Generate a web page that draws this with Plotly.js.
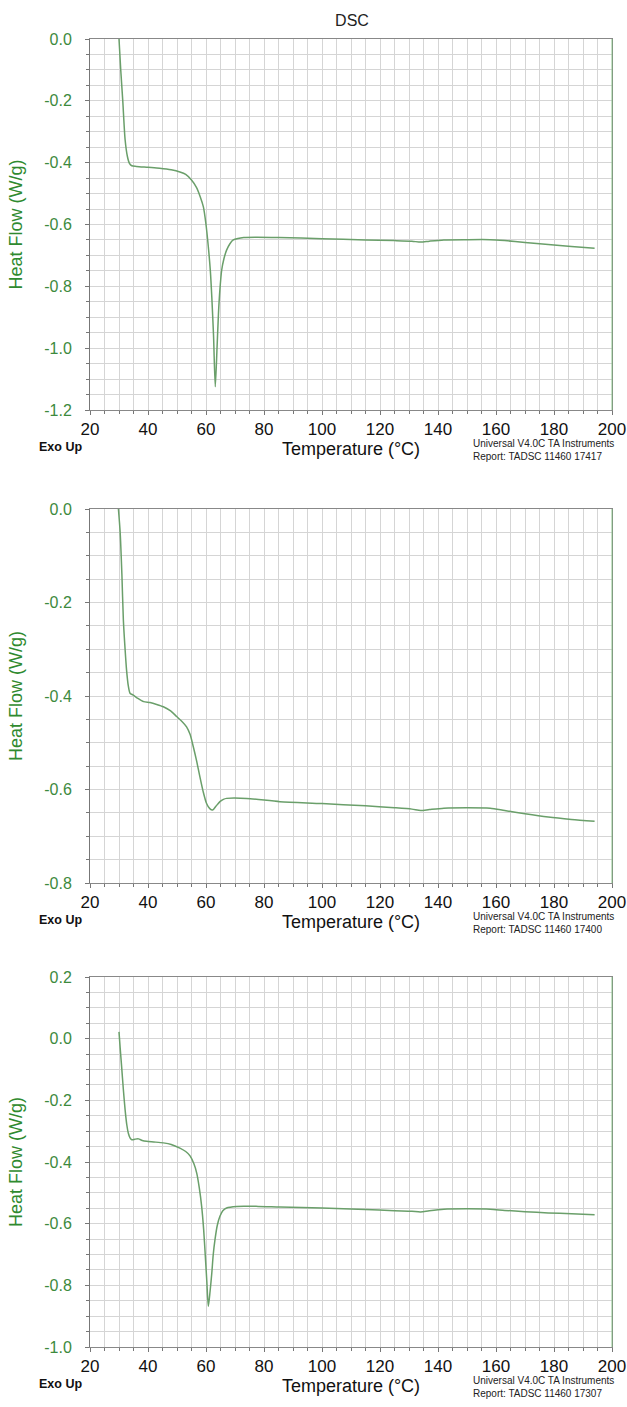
<!DOCTYPE html>
<html><head><meta charset="utf-8">
<script src="https://cdn.plot.ly/plotly-3.0.1.min.js"></script>
<style>html,body{margin:0;padding:0;background:#fff}#chart{width:627px;height:1407px}</style>
</head><body><div id="chart"></div>
<script>
// ---- data ----
// Panel 1 : Report TADSC 11460 17417
const temp1 = [30.0, 30.6, 31.3, 32.1, 32.9, 33.6, 34.4, 36, 40, 44, 48, 51, 53, 55, 56.7, 58, 59.1, 60, 60.8, 61.5, 62, 62.6, 63.2, 63.8, 64.3, 64.8, 65.4, 66.2, 67.1, 68.2, 69.4, 71, 73, 77, 85, 100, 115, 125, 131, 134, 137, 142, 150, 158, 163, 170, 178, 186, 194];
const flow1 = [0.0, -0.1, -0.2, -0.325, -0.38, -0.402, -0.41, -0.412, -0.415, -0.418, -0.423, -0.43, -0.438, -0.456, -0.48, -0.51, -0.543, -0.6, -0.672, -0.75, -0.834, -0.96, -1.125, -1.0, -0.888, -0.81, -0.748, -0.71, -0.683, -0.663, -0.65, -0.645, -0.642, -0.641, -0.642, -0.646, -0.65, -0.652, -0.654, -0.657, -0.654, -0.65, -0.649, -0.649, -0.652, -0.658, -0.665, -0.671, -0.677];
// Panel 2 : Report TADSC 11460 17400
const temp2 = [29.8, 30.4, 31.0, 31.5, 32.1, 32.6, 33.2, 33.8, 34.9, 36.5, 38.5, 40.7, 43, 45.3, 47.8, 49.9, 51.8, 53.3, 54.5, 55.6, 56.8, 57.9, 59, 60.2, 61.3, 62.3, 63.4, 64.8, 66, 67.1, 74, 85.5, 100, 115, 125, 131, 134, 137, 142, 150, 158, 163, 170, 178, 186, 194];
const flow2 = [0.0, -0.05, -0.14, -0.237, -0.3, -0.344, -0.378, -0.394, -0.398, -0.405, -0.412, -0.414, -0.418, -0.423, -0.432, -0.444, -0.455, -0.466, -0.482, -0.508, -0.54, -0.573, -0.604, -0.63, -0.641, -0.644, -0.636, -0.626, -0.621, -0.619, -0.619, -0.626, -0.63, -0.635, -0.639, -0.642, -0.645, -0.643, -0.64, -0.639, -0.64, -0.645, -0.652, -0.659, -0.664, -0.668];
// Panel 3 : Report TADSC 11460 17307
const temp3 = [30.0, 30.4, 30.9, 31.5, 32.1, 32.7, 33.2, 33.8, 34.4, 35.5, 36.7, 38, 39.5, 42, 45.3, 48, 51, 53, 54.5, 55.8, 56.8, 57.7, 58.5, 59.2, 59.7, 60.3, 60.8, 61.4, 62, 62.5, 63.1, 63.9, 64.8, 65.8, 67.1, 70.6, 78, 85.5, 100, 115, 125, 131, 134, 137, 142, 150, 158, 163, 170, 178, 186, 194];
const flow3 = [0.022, -0.03, -0.09, -0.165, -0.23, -0.28, -0.306, -0.322, -0.328, -0.326, -0.325, -0.33, -0.333, -0.335, -0.338, -0.343, -0.355, -0.366, -0.38, -0.405, -0.436, -0.485, -0.544, -0.62, -0.695, -0.79, -0.868, -0.82, -0.76, -0.7, -0.652, -0.605, -0.576, -0.558, -0.549, -0.544, -0.544, -0.546, -0.549, -0.554, -0.558, -0.56, -0.562, -0.558, -0.553, -0.552, -0.553, -0.557, -0.561, -0.565, -0.568, -0.571];

// tick labels
const yTicks1 = [0, -0.2, -0.4, -0.6, -0.8, -1.0, -1.2];
const yText1  = ['0.0', '-0.2', '-0.4', '-0.6', '-0.8', '-1.0', '-1.2'];
const yTicks2 = [0, -0.2, -0.4, -0.6, -0.8];
const yText2  = ['0.0', '-0.2', '-0.4', '-0.6', '-0.8'];
const yTicks3 = [0.2, 0, -0.2, -0.4, -0.6, -0.8, -1.0];
const yText3  = ['0.2', '0.0', '-0.2', '-0.4', '-0.6', '-0.8', '-1.0'];
const software = 'Universal V4.0C TA Instruments';
const reports = ['Report: TADSC 11460 17417', 'Report: TADSC 11460 17400', 'Report: TADSC 11460 17307'];

// ---- styling / layout ----
const W = 627, H = 1407;
const FONT = 'Liberation Sans, Arial, sans-serif';
const GRID = '#d5d5d5';
const LINE = '#6a9f6a';
const GREEN_TXT = '#3d8a3d';
const py = p => 1 - p / H;                 // pixel row -> paper y
const px = p => (p - 90) / (W - 90 - 15);  // pixel col -> paper x

const panels = [
  {top: 39,  bottom: 410,  range: [-1.2, 0],   tv: yTicks1, tt: yText1},
  {top: 509, bottom: 883,  range: [-0.8, 0],   tv: yTicks2, tt: yText2},
  {top: 977, bottom: 1347, range: [-1.0, 0.2], tv: yTicks3, tt: yText3}
];
const series = [[temp1, flow1], [temp2, flow2], [temp3, flow3]];

const data = series.map((s, i) => ({
  x: s[0], y: s[1], type: 'scatter', mode: 'lines',
  line: {color: LINE, width: 1.5, shape: 'spline', smoothing: 0.7},
  xaxis: i === 0 ? 'x' : 'x' + (i + 1),
  yaxis: i === 0 ? 'y' : 'y' + (i + 1),
  hoverinfo: 'skip', showlegend: false, cliponaxis: true
}));

const layout = {
  width: W, height: H,
  margin: {l: 90, r: 15, t: 0, b: 0},
  paper_bgcolor: '#fff', plot_bgcolor: '#fff',
  showlegend: false,
  title: {text: 'DSC', x: 352 / W, xanchor: 'center', xref: 'container',
          y: 1 - 20 / H, yanchor: 'middle', yref: 'container',
          font: {family: FONT, size: 16, color: '#222'}},
  annotations: [], shapes: []
};

panels.forEach((p, i) => {
  const sfx = i === 0 ? '' : String(i + 1);
  const xa = 'x' + sfx, ya = 'y' + sfx;
  layout['xaxis' + sfx] = {
    domain: [0, 1], anchor: ya, range: [20, 200],
    tickmode: 'linear', tick0: 0, dtick: 20,
    ticks: 'outside', ticklen: 4, tickcolor: '#777', tickwidth: 1,
    showline: true, linecolor: '#888', linewidth: 1, mirror: true,
    showgrid: true, gridcolor: GRID, gridwidth: 1, zeroline: false,
    tickfont: {family: FONT, size: 17, color: '#111'},
    title: {text: 'Temperature (°C)', font: {family: FONT, size: 18, color: '#111'}, standoff: 1},
    minor: {tick0: 0, dtick: 5, showgrid: true, gridcolor: GRID, gridwidth: 1,
            ticks: 'outside', ticklen: 3, tickcolor: '#777'},
    fixedrange: true, automargin: false
  };
  layout['yaxis' + sfx] = {
    domain: [py(p.bottom), py(p.top)], anchor: xa, range: p.range,
    tickmode: 'array', tickvals: p.tv, ticktext: p.tt,
    ticks: 'outside', ticklen: 4, tickcolor: '#777', tickwidth: 1,
    ticklabelstandoff: 10,
    showline: true, linecolor: '#777', linewidth: 1, mirror: true,
    showgrid: true, gridcolor: GRID, gridwidth: 1, zeroline: false,
    tickfont: {family: FONT, size: 16, color: GREEN_TXT},
    title: {text: 'Heat Flow (W/g)', font: {family: FONT, size: 18, color: '#2f8a2f'}, standoff: 16},
    minor: {tick0: 0, dtick: 0.05, showgrid: true, gridcolor: GRID, gridwidth: 1,
            ticks: 'outside', ticklen: 3, tickcolor: '#777'},
    fixedrange: true, automargin: false
  };
  // green right border
  layout.shapes.push({type: 'line', xref: 'paper', x0: 1, x1: 1,
    yref: ya + ' domain', y0: 0, y1: 1, line: {color: '#8cc48c', width: 1}, layer: 'above'});
  layout.annotations.push({
    text: '<b>Exo Up</b>', xref: 'paper', yref: 'paper', x: px(60), y: py(p.bottom + 37),
    xanchor: 'center', yanchor: 'middle', showarrow: false,
    font: {family: FONT, size: 12.5, color: '#111'}
  });
  layout.annotations.push({
    text: software + '<br>' + reports[i], xref: 'paper', yref: 'paper', x: px(471), y: py(p.bottom + 40),
    xanchor: 'left', yanchor: 'middle', align: 'left', showarrow: false,
    font: {family: FONT, size: 10, color: '#222'}
  });
});

Plotly.newPlot('chart', data, layout, {staticPlot: true, displayModeBar: false});
</script></body></html>
